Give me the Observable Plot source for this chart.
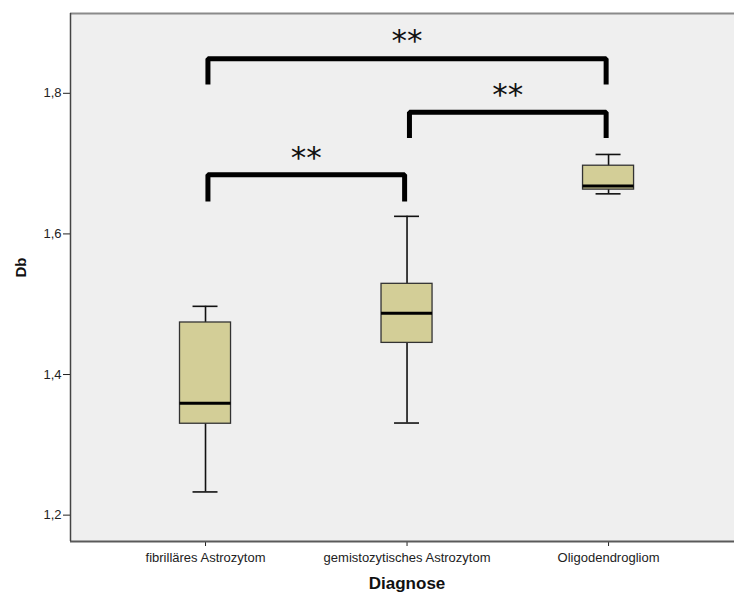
<!DOCTYPE html>
<html>
<head>
<meta charset="utf-8">
<script src="https://cdn.jsdelivr.net/npm/d3@7"></script>
<script src="https://cdn.jsdelivr.net/npm/@observablehq/plot@0.6"></script>
<style>
  html, body { margin: 0; padding: 0; background: #ffffff; }
  #chart svg { display: block; }
</style>
</head>
<body>
<div id="chart"></div>
<script>
// Fractal dimension Db by diagnosis (box plot summary statistics)
const diagnoses = ["fibrilläres Astrozytom", "gemistozytisches Astrozytom", "Oligodendrogliom"];
const dbMin    = [1.233, 1.331, 1.657];
const dbQ1     = [1.330, 1.445, 1.663];
const dbMedian = [1.359, 1.487, 1.668];
const dbQ3     = [1.474, 1.529, 1.697];
const dbMax    = [1.497, 1.625, 1.713];

// Pairwise comparisons with significance brackets
const pairFrom   = [0, 1, 0];
const pairTo     = [2, 2, 1];
const bracketTop = [1.849, 1.773, 1.684];
const bracketLeg = [1.8125, 1.7365, 1.646];
const starLabel  = ["**", "**", "**"];
const starY      = [1.878, 1.801, 1.712];

const yTicks = [1.2, 1.4, 1.6, 1.8];
const yDomain = [1.1625, 1.9135];
const xDomain = [-0.67, 2.625];

const boxHalf = 0.1266;
const capHalf = 0.062;
const legInset = 0.012;

const groups = diagnoses.map((name, i) => ({
  i, name, min: dbMin[i], q1: dbQ1[i], median: dbMedian[i], q3: dbQ3[i], max: dbMax[i]
}));

const bracketPts = [];
pairFrom.forEach((a, k) => {
  const b = pairTo[k];
  bracketPts.push({k, x: a + legInset, y: bracketLeg[k]});
  bracketPts.push({k, x: a + legInset, y: bracketTop[k]});
  bracketPts.push({k, x: b - legInset, y: bracketTop[k]});
  bracketPts.push({k, x: b - legInset, y: bracketLeg[k]});
});
const stars = pairFrom.map((a, k) => ({x: (a + pairTo[k]) / 2, y: starY[k], text: starLabel[k]}));

const chart = Plot.plot({
  width: 734,
  height: 597,
  marginLeft: 70,
  marginRight: 0,
  marginTop: 13,
  marginBottom: 56,
  style: {fontFamily: "'Liberation Sans', Arial, sans-serif", fontSize: "13px", color: "#222", background: "#ffffff"},
  x: {
    domain: xDomain,
    ticks: [0, 1, 2],
    tickFormat: i => diagnoses[i],
    tickSize: 5,
    tickPadding: 6,
    label: null
  },
  y: {
    domain: yDomain,
    ticks: yTicks,
    tickFormat: d => d.toFixed(1).replace(".", ","),
    tickSize: 7,
    tickPadding: 2,
    label: null
  },
  marks: [
    Plot.frame({fill: "#efefef", stroke: null}),
    Plot.ruleY([yDomain[1]], {stroke: "#8a8a8a", strokeWidth: 2}),
    Plot.ruleY([yDomain[0]], {stroke: "#5a5a5a", strokeWidth: 2}),
    Plot.ruleX([xDomain[0]], {stroke: "#444", strokeWidth: 1.5}),
    // whiskers
    Plot.ruleX(groups, {x: "i", y1: "min", y2: "max", stroke: "#111", strokeWidth: 1.6}),
    Plot.ruleY(groups, {y: "min", x1: d => d.i - capHalf, x2: d => d.i + capHalf, stroke: "#111", strokeWidth: 1.6}),
    Plot.ruleY(groups, {y: "max", x1: d => d.i - capHalf, x2: d => d.i + capHalf, stroke: "#111", strokeWidth: 1.6}),
    // boxes
    Plot.rect(groups, {x1: d => d.i - boxHalf, x2: d => d.i + boxHalf, y1: "q1", y2: "q3", fill: "#d3ce97", stroke: "#333", strokeWidth: 1.3}),
    Plot.ruleY(groups, {y: "median", x1: d => d.i - boxHalf, x2: d => d.i + boxHalf, stroke: "#000", strokeWidth: 3}),
    // significance brackets
    Plot.line(bracketPts, {x: "x", y: "y", z: "k", stroke: "#000", strokeWidth: 5, strokeLinejoin: "miter", strokeLinecap: "butt"}),
    Plot.text(stars, {x: "x", y: "y", text: "text", dy: 2.5, fontSize: 31, fontFamily: "'DejaVu Sans', sans-serif", fill: "#111"}),
    // axis titles
    Plot.text(["Db"], {frameAnchor: "left", dx: -49, rotate: -90, fontSize: 15, fontWeight: "bold", fill: "#111"}),
    Plot.text(["Diagnose"], {x: () => 1, frameAnchor: "bottom", dy: 47, fontSize: 17, fontWeight: "bold", fill: "#111"})
  ]
});

document.getElementById("chart").appendChild(chart);
</script>
</body>
</html>
